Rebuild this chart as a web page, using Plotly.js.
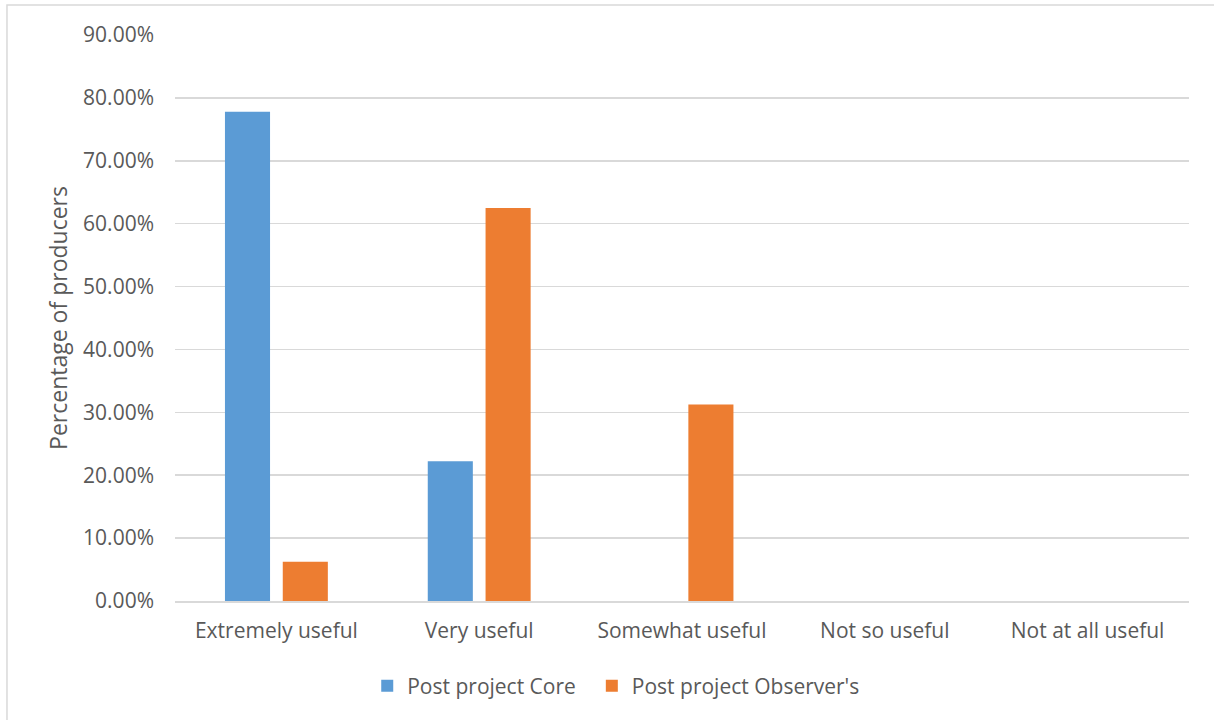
<!DOCTYPE html>
<html>
<head>
<meta charset="utf-8">
<script src="https://cdn.plot.ly/plotly-3.0.1.min.js"></script>
<style>
  html, body { margin: 0; padding: 0; background: #fff; }
  #chart { width: 1214px; height: 720px; }
</style>
</head>
<body>
<div id="chart"></div>
<script>
// Usefulness ratings, share of producers per response
const categories = ["Extremely useful", "Very useful", "Somewhat useful", "Not so useful", "Not at all useful"];
const coreValues = [0.7778, 0.2222, 0, 0, 0];
const observerValues = [0.0625, 0.625, 0.3125, 0, 0];
const seriesNames = ["Post project Core", "Post project Observer's"];
const yTickValues = [0, 0.1, 0.2, 0.3, 0.4, 0.5, 0.6, 0.7, 0.8, 0.9];

const FONT = "'Open Sans', 'Noto Sans', sans-serif";
const TEXT_COLOR = "#595959";

const traces = [
  {
    type: "bar",
    name: seriesNames[0],
    x: categories,
    y: coreValues,
    marker: { color: "#5b9bd5" },
    legend: "legend",
    hoverinfo: "x+y"
  },
  {
    type: "bar",
    name: seriesNames[1],
    x: categories,
    y: observerValues,
    marker: { color: "#ed7d31" },
    legend: "legend2",
    hoverinfo: "x+y"
  }
];

// one legend box per series, so each entry can be placed on its own
function legendBox(left) {
  return {
    orientation: "h",
    xref: "container",
    x: left,
    xanchor: "left",
    yref: "container",
    y: 0.047,
    yanchor: "middle",
    font: { family: FONT, size: 21, color: TEXT_COLOR },
    bgcolor: "rgba(0,0,0,0)"
  };
}

const layout = {
  width: 1214,
  height: 720,
  margin: { l: 175, r: 25, t: 35, b: 119 },
  paper_bgcolor: "#ffffff",
  plot_bgcolor: "#ffffff",
  font: { family: FONT, size: 21, color: TEXT_COLOR },
  barmode: "group",
  bargap: 0.43,
  bargroupgap: 0.22,
  showlegend: true,
  legend: legendBox(0.3025),
  legend2: legendBox(0.4875),
  xaxis: {
    type: "category",
    showgrid: false,
    showline: true,
    linecolor: "#d9d9d9",
    linewidth: 1.5,
    ticks: "",
    tickfont: { family: FONT, size: 21, color: TEXT_COLOR },
    ticklabelstandoff: 10,
    fixedrange: true
  },
  yaxis: {
    range: [0, 0.9],
    tickvals: yTickValues,
    tickformat: ".2%",
    showgrid: true,
    gridcolor: "#d9d9d9",
    gridwidth: 1.5,
    zeroline: false,
    showline: false,
    ticks: "",
    ticklabelstandoff: 20,
    tickfont: { family: FONT, size: 21, color: TEXT_COLOR },
    title: { text: "Percentage of producers", font: { family: FONT, size: 23, color: TEXT_COLOR }, standoff: 9 },
    fixedrange: true
  },
  shapes: [
    {
      type: "rect",
      xref: "paper", yref: "paper",
      x0: -0.1657, x1: 1.2,
      y0: -0.5, y1: 1.053,
      line: { color: "#d9d9d9", width: 1.5 },
      fillcolor: "rgba(0,0,0,0)",
      layer: "below"
    }
  ]
};

Plotly.newPlot("chart", traces, layout, { displayModeBar: false, staticPlot: true });
</script>
</body>
</html>
